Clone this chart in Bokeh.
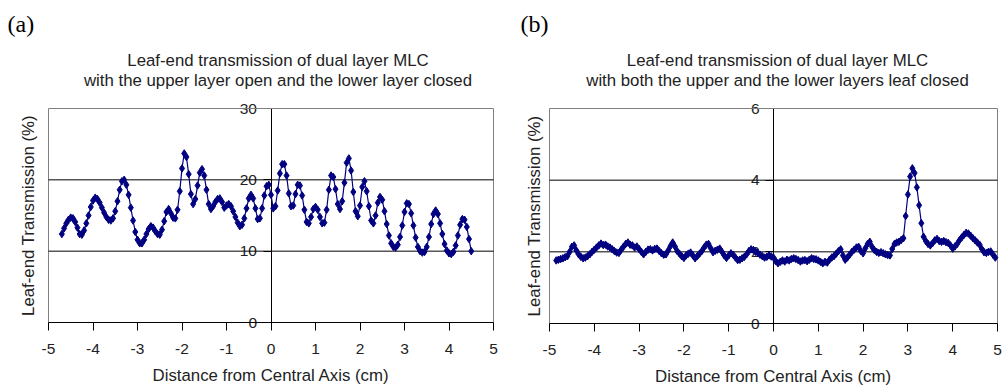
import math
from bokeh.plotting import figure
from bokeh.models import Range1d, FixedTicker, Grid, LinearAxis, Label
from bokeh.layouts import row
from bokeh.embed import file_html
from bokeh.resources import INLINE

# ---------------- data ----------------
left_x = [-4.70, -4.65, -4.60, -4.55, -4.50, -4.45, -4.40, -4.35, -4.30, -4.25,
          -4.20, -4.15, -4.10, -4.05, -4.00, -3.95, -3.90, -3.85, -3.80, -3.75,
          -3.70, -3.65, -3.60, -3.55, -3.50, -3.45, -3.40, -3.35, -3.30, -3.25,
          -3.20, -3.15, -3.10, -3.05, -3.00, -2.95, -2.90, -2.85, -2.80, -2.75,
          -2.70, -2.65, -2.60, -2.55, -2.50, -2.45, -2.40, -2.35, -2.30, -2.25,
          -2.20, -2.15, -2.10, -2.05, -2.00, -1.95, -1.90, -1.85, -1.80, -1.75,
          -1.70, -1.65, -1.60, -1.55, -1.50, -1.45, -1.40, -1.35, -1.30, -1.25,
          -1.20, -1.15, -1.10, -1.05, -1.00, -0.95, -0.90, -0.85, -0.80, -0.75,
          -0.70, -0.65, -0.60, -0.55, -0.50, -0.45, -0.40, -0.35, -0.30, -0.25,
          -0.20, -0.15, -0.10, -0.05, 0.00, 0.05, 0.10, 0.15, 0.20, 0.25,
          0.30, 0.35, 0.40, 0.45, 0.50, 0.55, 0.60, 0.65, 0.70, 0.75,
          0.80, 0.85, 0.90, 0.95, 1.00, 1.05, 1.10, 1.15, 1.20, 1.25,
          1.30, 1.35, 1.40, 1.45, 1.50, 1.55, 1.60, 1.65, 1.70, 1.75,
          1.80, 1.85, 1.90, 1.95, 2.00, 2.05, 2.10, 2.15, 2.20, 2.25,
          2.30, 2.35, 2.40, 2.45, 2.50, 2.55, 2.60, 2.65, 2.70, 2.75,
          2.80, 2.85, 2.90, 2.95, 3.00, 3.05, 3.10, 3.15, 3.20, 3.25,
          3.30, 3.35, 3.40, 3.45, 3.50, 3.55, 3.60, 3.65, 3.70, 3.75,
          3.80, 3.85, 3.90, 3.95, 4.00, 4.05, 4.10, 4.15, 4.20, 4.25,
          4.30, 4.35, 4.40, 4.45, 4.50]
left_y = [12.4, 13.2, 13.9, 14.4, 14.7, 14.6, 14.1, 13.3, 12.4, 12.3,
          12.9, 13.9, 15.0, 16.2, 17.1, 17.5, 17.3, 16.8, 16.1, 15.4,
          14.8, 14.4, 14.3, 14.6, 15.6, 17.0, 18.6, 19.8, 20.0, 19.3,
          17.9, 16.1, 14.3, 12.7, 11.6, 11.1, 11.1, 11.6, 12.4, 13.1,
          13.5, 13.3, 12.8, 12.4, 12.3, 13.0, 14.2, 15.5, 15.9, 15.3,
          14.7, 14.6, 15.8, 18.4, 21.6, 23.7, 23.2, 20.8, 18.0, 16.6,
          17.3, 19.2, 21.0, 21.5, 20.6, 18.6, 16.6, 15.9, 16.3, 16.9,
          17.3, 17.4, 16.9, 16.1, 16.4, 16.6, 16.3, 15.6, 14.8, 14.0,
          13.5, 13.7, 14.6, 16.0, 17.4, 17.9, 17.4, 16.0, 14.5, 14.6,
          16.0, 17.8, 19.1, 19.3, 17.9, 16.0, 16.3, 18.5, 20.9, 22.2,
          22.2, 20.6, 18.1, 16.3, 16.4, 18.0, 19.3, 19.2, 17.8, 15.8,
          14.1, 13.9, 14.8, 15.9, 16.2, 15.8, 14.8, 13.9, 14.0, 15.8,
          18.6, 20.6, 20.4, 18.7, 16.6, 15.9, 17.0, 19.6, 22.4, 23.0,
          21.3, 18.3, 15.6, 14.9, 16.4, 19.0, 19.8, 18.4, 16.3, 14.3,
          13.9, 15.0, 16.8, 17.6, 17.2, 15.6, 13.8, 12.2, 11.1, 10.6,
          10.5, 10.9, 12.0, 13.6, 15.5, 16.7, 16.6, 15.3, 13.6, 11.9,
          10.6, 10.0, 9.8, 9.9, 10.6, 12.0, 13.8, 15.2, 15.7, 15.2,
          13.9, 12.4, 11.0, 10.1, 9.7, 9.6, 9.9, 10.8, 12.2, 13.7,
          14.5, 14.4, 13.4, 11.7, 10.0]

right_x = [-4.85, -4.80, -4.75, -4.70, -4.65, -4.60, -4.55, -4.50, -4.45, -4.40,
           -4.35, -4.30, -4.25, -4.20, -4.15, -4.10, -4.05, -4.00, -3.95, -3.90,
           -3.85, -3.80, -3.75, -3.70, -3.65, -3.60, -3.55, -3.50, -3.45, -3.40,
           -3.35, -3.30, -3.25, -3.20, -3.15, -3.10, -3.05, -3.00, -2.95, -2.90,
           -2.85, -2.80, -2.75, -2.70, -2.65, -2.60, -2.55, -2.50, -2.45, -2.40,
           -2.35, -2.30, -2.25, -2.20, -2.15, -2.10, -2.05, -2.00, -1.95, -1.90,
           -1.85, -1.80, -1.75, -1.70, -1.65, -1.60, -1.55, -1.50, -1.45, -1.40,
           -1.35, -1.30, -1.25, -1.20, -1.15, -1.10, -1.05, -1.00, -0.95, -0.90,
           -0.85, -0.80, -0.75, -0.70, -0.65, -0.60, -0.55, -0.50, -0.45, -0.40,
           -0.35, -0.30, -0.25, -0.20, -0.15, -0.10, -0.05, 0.00, 0.05, 0.10,
           0.15, 0.20, 0.25, 0.30, 0.35, 0.40, 0.45, 0.50, 0.55, 0.60,
           0.65, 0.70, 0.75, 0.80, 0.85, 0.90, 0.95, 1.00, 1.05, 1.10,
           1.15, 1.20, 1.25, 1.30, 1.35, 1.40, 1.45, 1.50, 1.55, 1.60,
           1.65, 1.70, 1.75, 1.80, 1.85, 1.90, 1.95, 2.00, 2.05, 2.10,
           2.15, 2.20, 2.25, 2.30, 2.35, 2.40, 2.45, 2.50, 2.55, 2.60,
           2.65, 2.70, 2.75, 2.80, 2.85, 2.90, 2.95, 3.00, 3.05, 3.10,
           3.15, 3.20, 3.25, 3.30, 3.35, 3.40, 3.45, 3.50, 3.55, 3.60,
           3.65, 3.70, 3.75, 3.80, 3.85, 3.90, 3.95, 4.00, 4.05, 4.10,
           4.15, 4.20, 4.25, 4.30, 4.35, 4.40, 4.45, 4.50, 4.55, 4.60,
           4.65, 4.70, 4.75, 4.80, 4.85, 4.90, 4.95]
right_y = [1.76, 1.78, 1.80, 1.82, 1.85, 1.88, 2.00, 2.14, 2.18, 2.04,
           1.93, 1.86, 1.82, 1.84, 1.88, 1.93, 2.00, 2.06, 2.12, 2.18,
           2.23, 2.19, 2.20, 2.15, 2.12, 2.07, 2.02, 1.98, 1.97, 2.06,
           2.14, 2.22, 2.26, 2.20, 2.18, 2.12, 2.15, 2.08, 2.00, 1.93,
           2.00, 2.06, 2.07, 2.04, 2.08, 2.09, 2.02, 1.96, 1.92, 1.93,
           2.04, 2.16, 2.26, 2.15, 2.02, 1.95, 1.88, 1.83, 1.90, 1.95,
           1.98, 1.90, 1.82, 1.88, 1.95, 2.02, 2.12, 2.20, 2.22, 2.10,
           1.99, 2.03, 2.06, 2.09, 2.00, 1.90, 1.83, 1.90, 1.96, 1.92,
           1.84, 1.77, 1.78, 1.82, 1.86, 1.93, 2.02, 2.07, 2.05, 2.00,
           1.97, 1.92, 1.88, 1.84, 1.86, 1.90, 1.87, 1.84, 1.74, 1.68,
           1.72, 1.76, 1.73, 1.78, 1.76, 1.80, 1.82, 1.80, 1.77, 1.73,
           1.76, 1.77, 1.74, 1.78, 1.82, 1.80, 1.79, 1.76, 1.72, 1.68,
           1.72, 1.70, 1.78, 1.84, 1.88, 1.95, 2.02, 2.07, 1.90, 1.78,
           1.84, 1.92, 2.00, 2.06, 2.12, 2.14, 2.02, 1.96, 2.10, 2.22,
           2.28, 2.14, 2.05, 2.00, 1.97, 1.99, 1.96, 1.93, 1.91, 1.90,
           2.08, 2.22, 2.26, 2.28, 2.33, 2.38, 3.00, 3.60, 4.10, 4.33,
           4.20, 3.80, 3.30, 2.80, 2.42, 2.30, 2.22, 2.18, 2.24, 2.32,
           2.36, 2.30, 2.28, 2.30, 2.27, 2.25, 2.18, 2.09, 2.15, 2.22,
           2.32, 2.40, 2.47, 2.53, 2.51, 2.45, 2.38, 2.32, 2.26, 2.20,
           2.08, 1.99, 1.97, 2.00, 2.01, 1.92, 1.84]

x_ticks = [-5, -4, -3, -2, -1, 0, 1, 2, 3, 4, 5]
left_y_ticks = [0, 10, 20, 30]
right_y_ticks = [0, 2, 4, 6]

left_title = ["Leaf-end transmission of dual layer MLC",
              "with the upper layer open and the lower layer closed"]
right_title = ["Leaf-end transmission of dual layer MLC",
               "with both the upper and the lower layers leaf closed"]
x_label = "Distance from Central Axis (cm)"
y_label = "Leaf-end Transmission (%)"

# ---------------- style / layout (pixels) ----------------
FONT = "Liberation Sans"
NAVY = "#000080"
TXT = "#222222"
FS = "16.8px"
TICK_FS = "15.5px"
FIG_H = 387


def make_panel(xs, ys, yticks, titles, letter, fig_left, width,
               x0_px, sx, y0_px, ytop_px, title_cx, ylab_cx, letter_left):
    ymax = yticks[-1]
    sy = (y0_px - ytop_px) / ymax

    def dx(px):  # page pixel -> data x
        return (px - x0_px) / sx

    def dy(py):  # page pixel -> data y
        return (y0_px - py) / sy

    p = figure(width=width, height=FIG_H, output_backend="svg",
               toolbar_location=None, x_axis_location=None,
               y_axis_location=None,
               x_range=Range1d(dx(fig_left), dx(fig_left + width)),
               y_range=Range1d(dy(FIG_H), dy(0)),
               min_border=0)
    p.outline_line_color = None
    p.background_fill_color = "white"
    p.border_fill_color = "white"
    p.center = [r for r in p.center if not isinstance(r, Grid)]

    xlo, xhi = x_ticks[0], x_ticks[-1]
    # plot-area frame and horizontal gridlines
    p.quad(left=[xlo], right=[xhi], bottom=[yticks[0]], top=[ymax],
           fill_color=None, line_color="#808080", line_width=1)
    inner = yticks[1:-1]
    p.segment(x0=[xlo] * len(inner), x1=[xhi] * len(inner),
              y0=inner, y1=inner, line_color="black", line_width=1)

    # x axis along y = 0
    xax = LinearAxis(fixed_location=0, bounds=(xlo, xhi),
                     ticker=FixedTicker(ticks=x_ticks),
                     major_label_overrides={t: str(t) for t in x_ticks},
                     axis_line_color="black", major_tick_line_color="black",
                     major_tick_out=8, major_tick_in=0,
                     minor_tick_line_color=None,
                     major_label_text_font=FONT,
                     major_label_text_font_size=TICK_FS,
                     major_label_text_color=TXT, major_label_standoff=13,
                     axis_label=x_label, axis_label_text_font=FONT,
                     axis_label_text_font_size=FS,
                     axis_label_text_font_style="normal",
                     axis_label_text_color=TXT, axis_label_standoff=9)
    p.add_layout(xax, "below")

    # vertical axis along x = 0
    cax = LinearAxis(fixed_location=0, bounds=(0, ymax),
                     ticker=FixedTicker(ticks=yticks),
                     axis_line_color="black", major_tick_line_color="black",
                     major_tick_out=8, major_tick_in=0,
                     minor_tick_line_color=None, major_label_standoff=6,
                     major_label_text_font=FONT,
                     major_label_text_font_size=TICK_FS,
                     major_label_text_color=TXT, level="underlay")
    p.add_layout(cax, "left")

    # data
    p.line(xs, ys, line_color=NAVY, line_width=1.2)
    p.scatter(xs, ys, marker="diamond", size=7.5, fill_color=NAVY,
              line_color=NAVY)

    # texts
    common = dict(text_font=FONT, text_font_size=FS, text_color=TXT,
                  text_baseline="middle")
    p.add_layout(Label(x=dx(title_cx), y=dy(60), text=titles[0],
                       text_align="center", **common))
    p.add_layout(Label(x=dx(title_cx), y=dy(80), text=titles[1],
                       text_align="center", **common))
    p.add_layout(Label(x=dx(ylab_cx), y=ymax / 2, text=y_label,
                       angle=math.pi / 2, text_align="center", **common))
    p.add_layout(Label(x=dx(letter_left), y=dy(23), text=letter,
                       text_align="left", text_baseline="middle",
                       text_font="Liberation Serif", text_font_size="24px",
                       text_color="black"))
    return p


p1 = make_panel(left_x, left_y, left_y_ticks, left_title, "(a)",
                0, 504, 270.5, 44.5, 322, 108, 277.5, 28, 7)
p2 = make_panel(right_x, right_y, right_y_ticks, right_title, "(b)",
                504, 499, 773, 44.8, 323, 108, 777, 534, 520)

layout = row(p1, p2, spacing=0)
open("out.html", "w").write(file_html(layout, INLINE))
